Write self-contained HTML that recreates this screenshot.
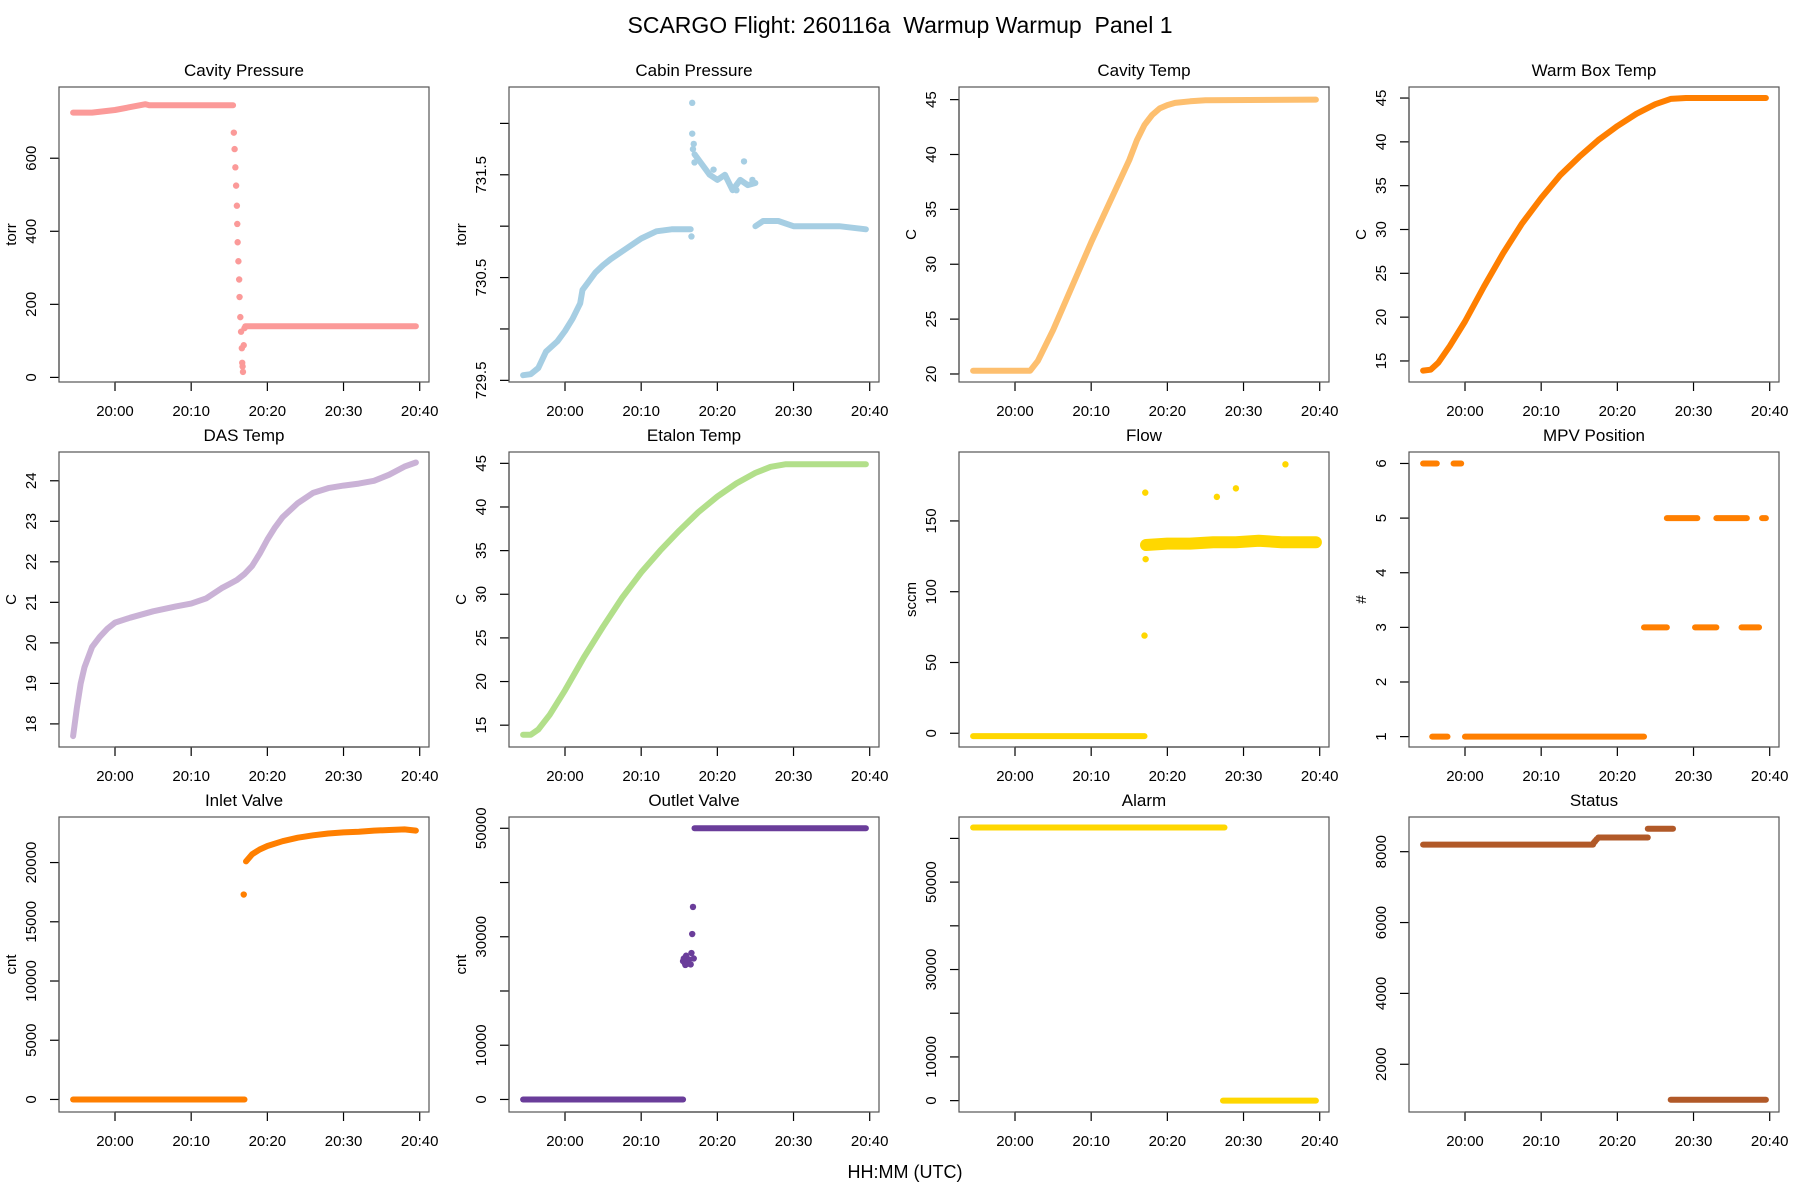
<!DOCTYPE html>
<html><head><meta charset="utf-8">
<style>
body{margin:0;background:#fff;}
svg{display:block;font-family:"Liberation Sans",Arial,sans-serif;}
</style></head>
<body>
<svg id="chart" width="1800" height="1200" viewBox="0 0 1800 1200">
<rect width="1800" height="1200" fill="#fff"/>
<text x="900" y="33" text-anchor="middle" font-size="23" style="white-space:pre" xml:space="preserve">SCARGO Flight: 260116a  Warmup Warmup  Panel 1</text>
<text x="905" y="1178" text-anchor="middle" font-size="18">HH:MM (UTC)</text>
</svg>
<script>
// time in minutes relative to 20:00
const xTickVals=[0,10,20,30,40];
const xTickLabels=["20:00","20:10","20:20","20:30","20:40"];

const p1T1=[-5.5,-3,0,2,4,4.5,6,10,15.5], p1V1=[725,725,732,740,748,745,745,745,745];
const p1DotT=[15.6,15.7,15.8,15.9,16.0,16.05,16.1,16.2,16.3,16.35,16.45,16.55,16.65,16.7,16.8,16.75,16.9,17.0];
const p1DotV=[670,625,575,525,470,420,370,318,268,220,165,125,80,40,15,30,88,135];
const p1T2=[17.1,39.5], p1V2=[140,140];

const p2T1=[-5.5,-4.5,-3.5,-2.5,-1,0,1,2,2.3,3,4,5,6,8,10,12,14,16.5];
const p2V1=[729.55,729.56,729.62,729.78,729.88,729.98,730.1,730.25,730.38,730.45,730.55,730.62,730.68,730.78,730.88,730.95,730.97,730.97];
const p2DotT=[16.6,16.7,16.7,16.8,16.9,17.0,19.5,22.5,23.5,24.6];
const p2DotV=[730.9,732.2,731.9,731.75,731.8,731.62,731.55,731.35,731.63,731.45];
const p2T2=[17,18,19,20,21,22,23,24,25], p2V2=[731.7,731.6,731.5,731.45,731.5,731.35,731.45,731.4,731.42];
const p2T3=[25,26,28,30,33,36,39.5], p2V3=[731.0,731.05,731.05,731.0,731.0,731.0,730.97];

const p3T=[-5.5,2,3,5,10,15,16,17,18,19,20,21,23,25,39.5], p3V=[20.3,20.3,21.2,24,32,39.5,41.3,42.7,43.6,44.2,44.5,44.7,44.85,44.95,45];
const p4T=[-5.5,-4.5,-3.5,-2,0,2.5,5,7.5,10,12.5,15,17.5,20,22.5,25,27,29,39.5];
const p4V=[13.9,14,14.8,16.7,19.5,23.5,27.3,30.7,33.6,36.2,38.3,40.2,41.8,43.2,44.3,44.9,45,45];
const p5T=[-5.5,-5,-4.5,-4,-3,-2,-1,0,2,5,8,10,12,14,15,16,17,18,19,20,21,22,24,26,28,30,32,34,36,38,39.5];
const p5V=[17.7,18.4,19,19.4,19.9,20.15,20.35,20.5,20.62,20.78,20.9,20.97,21.1,21.35,21.45,21.55,21.7,21.9,22.2,22.55,22.85,23.1,23.45,23.7,23.82,23.88,23.93,24.0,24.15,24.35,24.45];
const p6T=[-5.5,-4.5,-3.5,-2,0,2.5,5,7.5,10,12.5,15,17.5,20,22.5,25,27,29,39.5];
const p6V=[13.9,13.9,14.5,16.2,19,22.8,26.3,29.6,32.5,35,37.3,39.4,41.2,42.7,43.9,44.6,44.9,44.9];

const p7T1=[-5.5,17], p7V1=[-2,-2];
const p7DotT=[17.1,17.15,17.0,26.5,29,35.5], p7DotV=[170,123,69,167,173,190];
const p7T2=[17.2,20,23,26,29,32,35,38,39.5], p7V2=[133,134,134,135,135,136,135,135,135];

const p8SegStart=[-5.5,-1.5,-4.3,0.0,23.5,26.5,30.2,33.0,36.3,39.0];
const p8SegEnd=[-3.7,-0.5,-2.3,23.5,26.5,30.5,33.0,37.0,38.6,39.5];
const p8SegVal=[6,6,1,1,3,5,3,5,3,5];

const p9T1=[-5.5,17], p9V1=[0,0];
const p9DotT=[16.9], p9DotV=[17300];
const p9T2=[17.2,18,19,20,22,24,26,28,30,32,34,36,38,39.5];
const p9V2=[20100,20700,21100,21400,21800,22100,22300,22450,22550,22600,22700,22750,22800,22700];

const p10T1=[-5.5,15.5], p10V1=[0,0];
const p10DotT=[15.5,15.6,15.7,15.8,15.9,16.0,16.1,16.3,16.5,16.6,16.7,16.8,16.9];
const p10DotV=[25500,26000,25200,24800,26500,25000,25500,25800,24900,27000,30500,35500,26000];
const p10T2=[17,39.5], p10V2=[50000,50000];

const p11T1=[-5.5,27.5], p11V1=[62500,62500];
const p11T2=[27.3,39.5], p11V2=[0,0];

const p12T1=[-5.5,16.8], p12V1=[8200,8200];
const p12DotT=[16.9,17.1,17.3], p12DotV=[8250,8300,8350];
const p12T2=[17.5,24], p12V2=[8400,8400];
const p12T3=[24,27.3], p12V3=[8650,8650];
const p12T4=[27,39.5], p12V4=[1000,1000];

const panels=[
 {name:"cavity-pressure",title:"Cavity Pressure",ylab:"torr",ylim:[-12.6,795],ticks:[0,200,400,600],labels:["0","200","400","600"],color:"#FB9A99",lines:[[p1T1,p1V1],[p1T2,p1V2]],dots:[[p1DotT,p1DotV]]},
 {name:"cabin-pressure",title:"Cabin Pressure",ylab:"torr",ylim:[729.484,732.354],ticks:[729.5,730,730.5,731,731.5,732],labels:["729.5","","730.5","","731.5",""],color:"#A6CEE3",lines:[[p2T1,p2V1],[p2T2,p2V2],[p2T3,p2V3]],dots:[[p2DotT,p2DotV]]},
 {name:"cavity-temp",title:"Cavity Temp",ylab:"C",ylim:[19.27,46.15],ticks:[20,25,30,35,40,45],labels:["20","25","30","35","40","45"],color:"#FDBF6F",lines:[[p3T,p3V]],dots:[]},
 {name:"warm-box-temp",title:"Warm Box Temp",ylab:"C",ylim:[12.6,46.26],ticks:[15,20,25,30,35,40,45],labels:["15","20","25","30","35","40","45"],color:"#FF7F00",lines:[[p4T,p4V]],dots:[]},
 {name:"das-temp",title:"DAS Temp",ylab:"C",ylim:[17.43,24.71],ticks:[18,19,20,21,22,23,24],labels:["18","19","20","21","22","23","24"],color:"#CAB2D6",lines:[[p5T,p5V]],dots:[]},
 {name:"etalon-temp",title:"Etalon Temp",ylab:"C",ylim:[12.5,46.3],ticks:[15,20,25,30,35,40,45],labels:["15","20","25","30","35","40","45"],color:"#B2DF8A",lines:[[p6T,p6V]],dots:[]},
 {name:"flow",title:"Flow",ylab:"sccm",ylim:[-9.7,198.7],ticks:[0,50,100,150],labels:["0","50","100","150"],color:"#FFD700",lines:[[p7T1,p7V1],[p7T2,p7V2,12]],dots:[[p7DotT,p7DotV]]},
 {name:"mpv-position",title:"MPV Position",ylab:"#",ylim:[0.81,6.21],ticks:[1,2,3,4,5,6],labels:["1","2","3","4","5","6"],color:"#FF7F00",lines:[],dots:[],segs:[p8SegStart,p8SegEnd,p8SegVal]},
 {name:"inlet-valve",title:"Inlet Valve",ylab:"cnt",ylim:[-1058,23846],ticks:[0,5000,10000,15000,20000],labels:["0","5000","10000","15000","20000"],color:"#FF7F00",lines:[[p9T1,p9V1],[p9T2,p9V2]],dots:[[p9DotT,p9DotV]]},
 {name:"outlet-valve",title:"Outlet Valve",ylab:"cnt",ylim:[-2310,52080],ticks:[0,10000,20000,30000,40000,50000],labels:["0","10000","","30000","","50000"],color:"#6A3D9A",lines:[[p10T1,p10V1],[p10T2,p10V2]],dots:[[p10DotT,p10DotV]]},
 {name:"alarm",title:"Alarm",ylab:"",ylim:[-2600,64900],ticks:[0,10000,20000,30000,40000,50000,60000],labels:["0","10000","","30000","","50000",""],color:"#FFD700",lines:[[p11T1,p11V1],[p11T2,p11V2]],dots:[]},
 {name:"status",title:"Status",ylab:"",ylim:[653,8979],ticks:[2000,4000,6000,8000],labels:["2000","4000","6000","8000"],color:"#B15928",lines:[[p12T1,p12V1],[p12T2,p12V2],[p12T3,p12V3],[p12T4,p12V4]],dots:[[p12DotT,p12DotV]]}
];

const svg=document.getElementById('chart');
const NS="http://www.w3.org/2000/svg";
function mk(tag,attrs,parent){const e=document.createElementNS(NS,tag);for(const k in attrs)e.setAttribute(k,attrs[k]);(parent||svg).appendChild(e);return e;}

panels.forEach((p,i)=>{
  const col=i%4,row=Math.floor(i/4);
  const L=col*450+59,R=col*450+429,T=87+row*365,B=382+row*365;
  const xs=m=>L+56+m*(304.7/40);
  const ys=v=>B-(v-p.ylim[0])/(p.ylim[1]-p.ylim[0])*(B-T);
  const g=mk('g',{});
  
  
  const t=mk('text',{x:(L+R)/2,y:T-11,'text-anchor':'middle','font-size':17},g);
  t.textContent=p.title;
  
  
  if(p.ylab){
    const yl=mk('text',{x:0,y:0,transform:`translate(${L-43},${(T+B)/2}) rotate(-90)`,'text-anchor':'middle','font-size':15},g);
    yl.textContent=p.ylab;
    
    
  }
  const xa=mk('g',{},g);
  
  
  mk('line',{x1:xs(xTickVals[0]),x2:xs(xTickVals[xTickVals.length-1]),y1:B,y2:B,stroke:'#000','stroke-width':1.2},xa);
  xTickVals.forEach((v,k)=>{
    mk('line',{x1:xs(v),x2:xs(v),y1:B,y2:B+9,stroke:'#000','stroke-width':1.2},xa);
    const lt=mk('text',{x:xs(v),y:B+34,'text-anchor':'middle','font-size':15},xa);
    lt.textContent=xTickLabels[k];
    
    
  });
  const ya=mk('g',{},g);
  
  
  mk('line',{x1:L,x2:L,y1:ys(p.ticks[0]),y2:ys(p.ticks[p.ticks.length-1]),stroke:'#000','stroke-width':1.2},ya);
  p.ticks.forEach((v,k)=>{
    mk('line',{x1:L-9,x2:L,y1:ys(v),y2:ys(v),stroke:'#000','stroke-width':1.2},ya);
    if(p.labels[k]){
      const lt=mk('text',{x:0,y:0,transform:`translate(${L-23},${ys(v)}) rotate(-90)`,'text-anchor':'middle','font-size':15},ya);
      lt.textContent=p.labels[k];
      
      
    }
  });
  const dg=mk('g',{},g);
  
  
  p.lines.forEach(ln=>{
    const pts=ln[0].map((m,k)=>xs(m).toFixed(1)+','+ys(ln[1][k]).toFixed(1)).join(' ');
    const pl=mk('polyline',{points:pts,fill:'none',stroke:p.color,'stroke-width':ln[2]||6,'stroke-linecap':'round','stroke-linejoin':'round'},dg);
    
    
  });
  p.dots.forEach(d=>{
    d[0].forEach((m,k)=>{
      const c=mk('circle',{cx:xs(m),cy:ys(d[1][k]),r:3.2,fill:p.color},dg);
      
      
    });
  });
  if(p.segs){
    p.segs[0].forEach((s,k)=>{
      const sl=mk('line',{x1:xs(s),x2:xs(p.segs[1][k]),y1:ys(p.segs[2][k]),y2:ys(p.segs[2][k]),stroke:p.color,'stroke-width':6,'stroke-linecap':'round'},dg);
      
      
    });
  }
  const box=mk('rect',{x:L,y:T,width:R-L,height:B-T,fill:'none',stroke:'#555','stroke-width':1.2},g);
  
  
});
</script>
</body></html>
